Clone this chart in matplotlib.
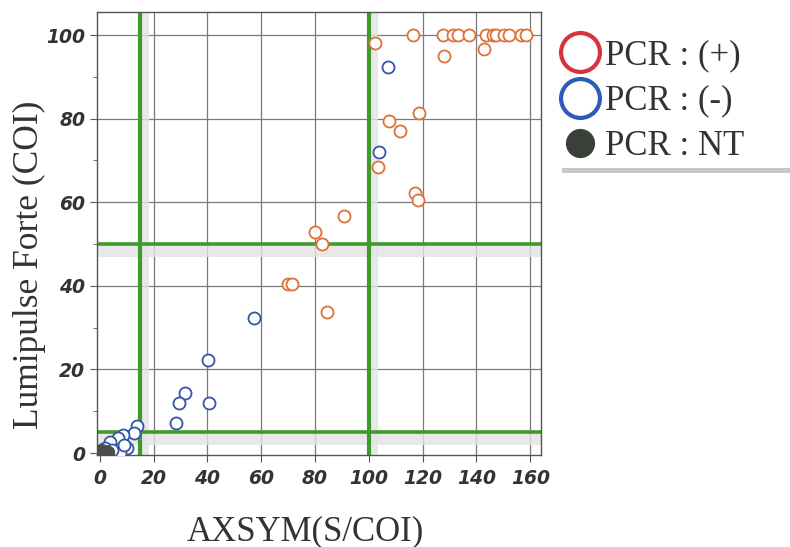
import matplotlib
matplotlib.use("Agg")
import matplotlib.pyplot as plt
from matplotlib.lines import Line2D
from matplotlib.patches import Rectangle

# PCR (+) samples
pos_x = [116.4, 127.6, 131.3, 133.2, 137.3, 143.7, 146.3, 147.4, 150.4, 152.2, 156.7, 158.6,
         102.2, 128.0, 143.0, 107.5, 111.6, 118.7, 103.4, 117.2, 118.3,
         90.7, 79.9, 82.5, 69.8, 71.3, 84.3]
pos_y = [100, 100, 100, 100, 100, 100, 100, 100, 100, 100, 100, 100,
         98.1, 95.0, 96.7, 79.4, 77.0, 81.3, 68.4, 62.2, 60.5,
         56.7, 52.9, 50.0, 40.4, 40.4, 33.7]
# PCR (-) samples
neg_x = [107.0, 103.7, 57.5, 40.3, 31.7, 29.5, 40.7, 28.4,
         13.8, 12.7, 8.6, 6.7, 3.7, 10.0, 7.5, 1.9, 4.5, 9.0]
neg_y = [92.3, 72.0, 32.3, 22.2, 14.4, 12.0, 12.0, 7.2,
         6.5, 4.8, 4.3, 3.6, 2.6, 1.2, 0.0, 1.2, 0.8, 2.0]
# PCR NT samples
nt_x = [0.5, 1.8, 3.2]
nt_y = [0.8, 0.5, 0.3]

x_ticks = [0, 20, 40, 60, 80, 100, 120, 140, 160]
y_ticks = [0, 20, 40, 60, 80, 100]
cut_x = [15, 100]
cut_y = [5, 50]

fig = plt.figure(figsize=(7.9, 5.47), dpi=100)
ax = fig.add_axes([0.1228, 0.168, 0.562, 0.810])
ax.set_xlim(-1, 164)
ax.set_ylim(-0.5, 105.5)

for v in x_ticks[1:]:
    ax.axvline(v, color="#7a7a7a", lw=0.9, zorder=1)
for v in y_ticks[1:]:
    ax.axhline(v, color="#7a7a7a", lw=0.9, zorder=1)

# gray stipple bands beside the cut-off lines
for v in cut_x:
    ax.axvspan(v + 0.5, v + 3.5, color="#e3e3e3", alpha=0.8, lw=0, zorder=1.5)
for v in cut_y:
    ax.axhspan(v - 3.0, v - 0.3, color="#e3e3e3", alpha=0.8, lw=0, zorder=1.5)
for v in cut_x:
    ax.axvline(v, color="#3f9a2c", lw=3.0, zorder=2)
for v in cut_y:
    ax.axhline(v, color="#3f9a2c", lw=2.6, zorder=2)

ax.scatter(pos_x, pos_y, s=75, facecolors="white", edgecolors="#e0703a", linewidths=1.3, zorder=4)
ax.scatter(neg_x, neg_y, s=75, facecolors="white", edgecolors="#3556a8", linewidths=1.3, zorder=3)
ax.scatter(nt_x, nt_y, s=75, color="#4a4f4a", zorder=5)

ax.set_xticks(x_ticks)
ax.set_yticks(y_ticks)
ax.set_yticks(range(10, 100, 20), minor=True)
ax.tick_params(axis="both", which="major", labelsize=13.5, labelcolor="#333333", length=5, color="#555555")
ax.tick_params(axis="x", pad=5)
ax.tick_params(axis="y", which="minor", length=3, color="#555555")
for lab in ax.get_xticklabels() + ax.get_yticklabels():
    lab.set_fontweight("bold")
    lab.set_fontstyle("italic")
for s in ax.spines.values():
    s.set_color("#555555")
    s.set_linewidth(1.0)

ax.set_xlabel("AXSYM(S/COI)", family="Liberation Serif", fontsize=25, color="#333333")
ax.set_ylabel("Lumipulse Forte (COI)", family="Liberation Serif", fontsize=25.5, color="#333333")
ax.xaxis.set_label_coords(0.47, -0.135)
ax.yaxis.set_label_coords(-0.115, 0.43)

handles = [
    Line2D([], [], ls="none", marker="o", markersize=28, markerfacecolor="white",
           markeredgecolor="#d8323c", markeredgewidth=3),
    Line2D([], [], ls="none", marker="o", markersize=28, markerfacecolor="white",
           markeredgecolor="#2a5cb8", markeredgewidth=3),
    Line2D([], [], ls="none", marker="o", markersize=20, markerfacecolor="#3a3f3a",
           markeredgecolor="#3a3f3a"),
]
labels = ["PCR : (+)", "PCR : (-)", "PCR : NT"]
fig.legend(handles, labels, loc="upper left", bbox_to_anchor=(0.678, 0.972), frameon=False,
           prop={"family": "Liberation Serif", "size": 25}, labelcolor="#333333",
           handletextpad=0.15, labelspacing=0.35, handlelength=1.15, borderpad=0.2)

fig.add_artist(Rectangle((0.712, 0.683), 0.29, 0.009, transform=fig.transFigure,
                         color="#b0b0b0", alpha=0.7, lw=0))

fig.savefig("out.png", dpi=100)
